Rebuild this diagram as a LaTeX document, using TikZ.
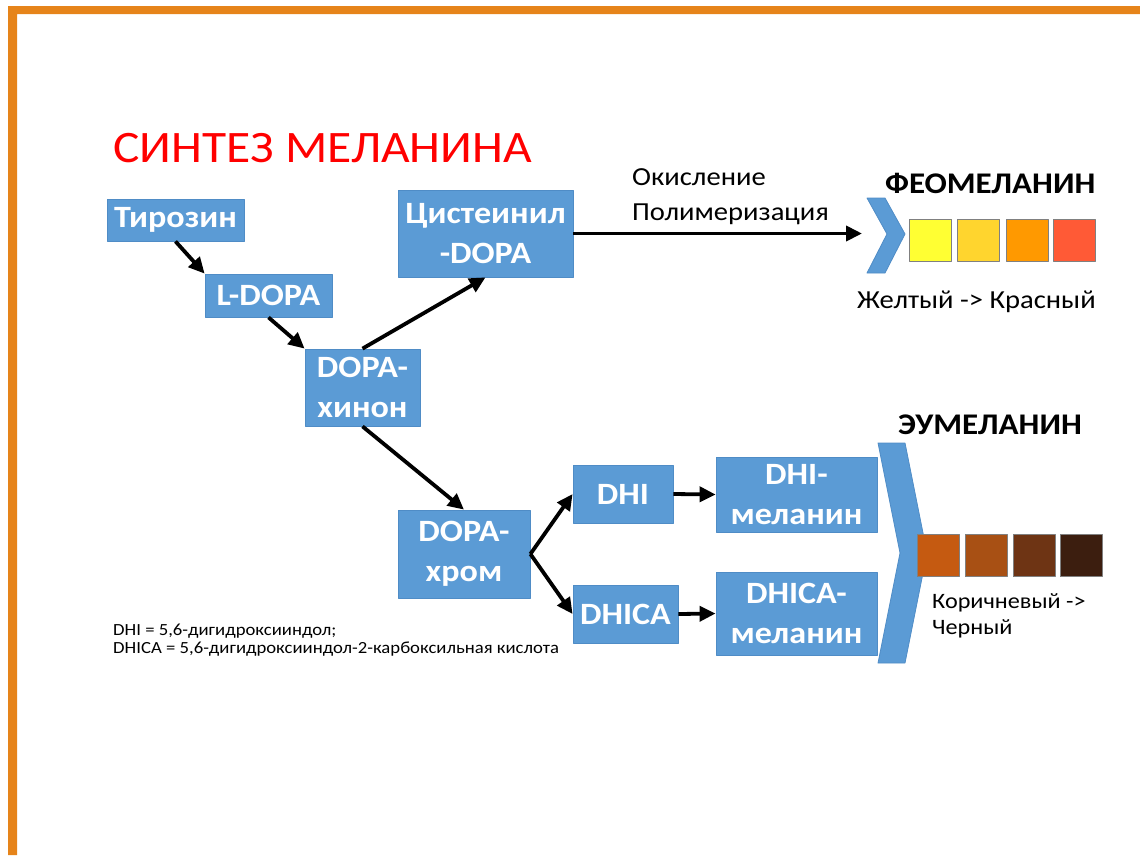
\documentclass[tikz,border=0pt]{standalone}
\usepackage{fontspec}
\setmainfont{Carlito}[FakeStretch=1.1]
\usetikzlibrary{arrows.meta}
\definecolor{boxblue}{HTML}{5B9BD5}
\definecolor{boxedge}{HTML}{4F8CC6}
\definecolor{frameorange}{HTML}{E6841A}
\definecolor{titlered}{HTML}{FF0000}
\definecolor{chipY1}{HTML}{FFFF33}
\definecolor{chipY2}{HTML}{FFD52E}
\definecolor{chipY3}{HTML}{FF9900}
\definecolor{chipY4}{HTML}{FF5A36}
\definecolor{chipB1}{HTML}{C55A11}
\definecolor{chipB2}{HTML}{A85014}
\definecolor{chipB3}{HTML}{6E3414}
\definecolor{chipB4}{HTML}{3C1E0F}
\begin{document}
\begin{tikzpicture}[x=1pt,y=-1pt,line join=round,
	stage/.style={rectangle,fill=boxblue,draw=boxedge,line width=0.8pt,text=white,inner sep=0,align=center,font=\fontsize{31}{40}\selectfont\bfseries},
	chip/.style={rectangle,draw=gray,line width=0.8pt,minimum size=42,inner sep=0},
	arr/.style={-{Triangle[length=16,width=15]},line width=3.8},
	chev/.style={fill=boxblue,draw=boxedge,line width=0.8pt}]
	\useasboundingbox (0,0) rectangle (1140,855);
	%рамка
	\fill[frameorange] (8,6) rectangle (1140,14) (8,6) rectangle (17,855);
	%заголовок
	\path (113,162)node(title)[anchor=base west,inner sep=0,text=titlered,font=\fontsize{45}{54}\selectfont]{СИНТЕЗ МЕЛАНИНА};
	%Уровень 0
	\path (175.5,220)node(tyr)[stage,minimum width=137,minimum height=42]{Тирозин}
	(268.5,295.5)node(ldopa)[stage,minimum width=127,minimum height=43]{L-DOPA}
	(362.5,387.5)node(hinon)[stage,minimum width=115,minimum height=77]{DOPA-\\хинон}
	;
	%Уровень 1
	\path (485.5,233.5)node(cyst)[stage,minimum width=175,minimum height=87]{Цистеинил\\-DOPA}
	(464,554)node(hrom)[stage,minimum width=132,minimum height=88]{DOPA-\\хром}
	;
	%Уровень 2
	\path (623,494)node(dhi)[stage,minimum width=100,minimum height=58]{DHI}
	(625.5,614)node(dhica)[stage,minimum width=105,minimum height=58]{DHICA}
	(796.5,494.5)node(dhimel)[stage,minimum width=161,minimum height=75]{DHI-\\меланин}
	(796.5,613.5)node(dhicamel)[stage,minimum width=161,minimum height=83]{DHICA-\\меланин}
	;
	%Феомеланин
	\draw[chev] (867,198)--(885,198)--(905,234)--(885,273)--(867,273)--(887,234)--cycle;
	\coordinate (feoin) at (862,233.5);
	\path (885,193)node(feo)[anchor=base west,inner sep=0,font=\fontsize{30}{36}\selectfont\bfseries]{ФЕОМЕЛАНИН};
	\path (930.5,240)node(y1)[chip,fill=chipY1]{}
	++(48,0)node(y2)[chip,fill=chipY2]{}
	++(48.5,0)node(y3)[chip,fill=chipY3]{}
	++(47,0)node(y4)[chip,fill=chipY4]{}
	;
	\path (857,308)node(feolbl)[anchor=base west,inner sep=0,font=\fontsize{26}{30}\selectfont]{Желтый -> Красный};
	%Эумеланин
	\draw[chev] (878,443)--(905,443)--(927,553)--(905,663)--(878,663)--(900,553)--cycle;
	\path (898,434)node(eu)[anchor=base west,inner sep=0,font=\fontsize{30}{36}\selectfont\bfseries]{ЭУМЕЛАНИН};
	\path (938,555.5)node(b1)[chip,fill=chipB1]{}
	++(48,0)node(b2)[chip,fill=chipB2]{}
	++(48,0)node(b3)[chip,fill=chipB3]{}
	++(47,0)node(b4)[chip,fill=chipB4]{}
	;
	\path (932,593)node(eulbl)[anchor=north west,inner sep=0,align=left,font=\fontsize{22}{26}\selectfont]{Коричневый ->\\Черный};
	%подписи
	\path (632,168)node(ox)[anchor=north west,inner sep=0,align=left,font=\fontsize{26}{35}\selectfont]{Окисление\\Полимеризация};
	\path (113,624)node(note)[anchor=north west,inner sep=0,align=left,font=\fontsize{17}{18}\selectfont]{DHI = 5,6-дигидроксииндол;\\DHICA = 5,6-дигидроксииндол-2-карбоксильная кислота};
	%стрелки
	\draw[arr](tyr.south)--(ldopa.north west);
	\draw[arr](ldopa.south)--(hinon.north west);
	\draw[arr](hinon.north)--(cyst.south);
	\draw[arr](hinon.south)--(hrom.north);
	\draw[arr](hrom.east)--(dhi.west);
	\draw[arr](hrom.east)--(dhica.west);
	\draw[arr](dhi.east)--(dhimel.west);
	\draw[arr](dhica.east)--(dhicamel.west);
	\draw[arr](cyst.east)--(feoin);
\end{tikzpicture}
\end{document}
